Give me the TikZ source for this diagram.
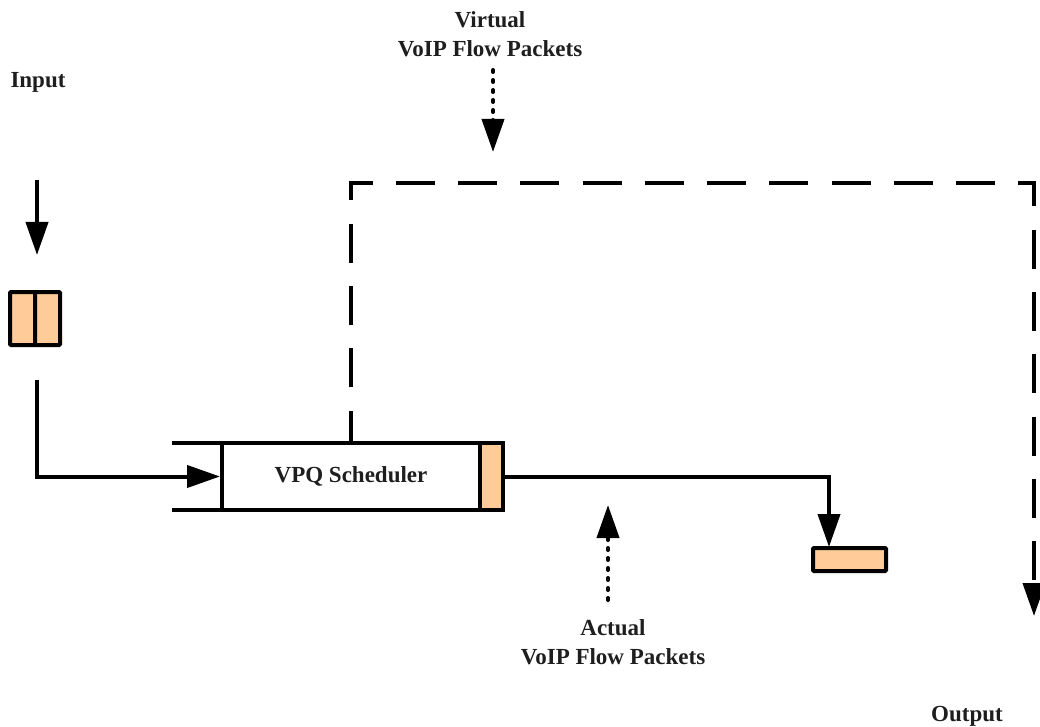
\documentclass[tikz,border=0pt]{standalone}
\usepackage{fontspec}
\setmainfont{Liberation Serif}
\usetikzlibrary{arrows.meta}
\definecolor{pktorange}{RGB}{255,204,153}
\definecolor{txt}{RGB}{30,30,30}
\tikzset{
  wire/.style={line width=4pt, draw=black},
  tip/.style={-{Triangle[length=33pt,width=22pt]}},
  pkt/.style={draw=black, line width=4pt, fill=pktorange, rounded corners=1pt, inner sep=0pt},
  lbl/.style={font=\fontsize{23}{29}\selectfont\bfseries, text=txt, align=center, inner sep=0pt},
  dashline/.style={wire, dash pattern=on 39pt off 23.27pt, dash phase=8.57pt},
  dotline/.style={wire, line cap=round, dash pattern=on 2pt off 8pt}
}
\begin{document}
\begin{tikzpicture}[x=1pt,y=-1pt]
\clip (0,0) rectangle (1040,727);
\path[use as bounding box] (0,0) rectangle (1040,727);
% labels
\node[lbl] (inlbl) at (38,82) {Input};
\node[lbl] (virt) at (490,34) {Virtual\\VoIP Flow Packets};
\node[lbl] (act) at (613,642) {Actual\\VoIP Flow Packets};
\node[lbl] (outlbl) at (967,716) {Output};
% input packet (two cells)
\node[pkt, minimum width=25pt, minimum height=53pt] (inA) at (22.5,318.5) {};
\node[pkt, minimum width=25pt, minimum height=53pt] (inB) at (47.5,318.5) {};
% scheduler
\node[draw=black, line width=4pt, fill=white, minimum width=258pt, minimum height=67pt, inner sep=0pt] (sched) at (351,476.5) {};
\node[lbl] (schedtxt) at (351,476.5) {VPQ Scheduler};
\node[pkt, rounded corners=0pt, minimum width=23pt, minimum height=67pt] (cell) at (491.5,476.5) {};
\coordinate (railT) at (172,443);
\coordinate (railB) at (172,510);
\draw[wire] (railT) -- (railT -| sched.west);
\draw[wire] (railB) -- (railB -| sched.west);
% output packet
\node[pkt, minimum width=73pt, minimum height=23pt] (outpkt) at (849.5,559.5) {};
\coordinate (oTip) at (829,547);
% connectors
\coordinate (inS) at (37,180);
\coordinate (inE) at (37,255);
\draw[wire, tip] (inS) -- (inE);
\coordinate (inC) at (37,380);
\draw[wire, tip] (inC) |- (sched.west);
\draw[wire, tip] (cell.east) -| (oTip);
\coordinate (dTop) at (1034,183);
\coordinate (dEnd) at (1034,616);
\draw[dashline, tip] (sched.north) |- (dTop) -- (dEnd);
\coordinate (vStart) at (493,70);
\coordinate (vEnd) at (493,152);
\draw[dotline, tip] (vStart) -- (vEnd);
\coordinate (aStart) at (608,600);
\coordinate (aEnd) at (608,505);
\draw[dotline, tip] (aStart) -- (aEnd);
\end{tikzpicture}
\end{document}
